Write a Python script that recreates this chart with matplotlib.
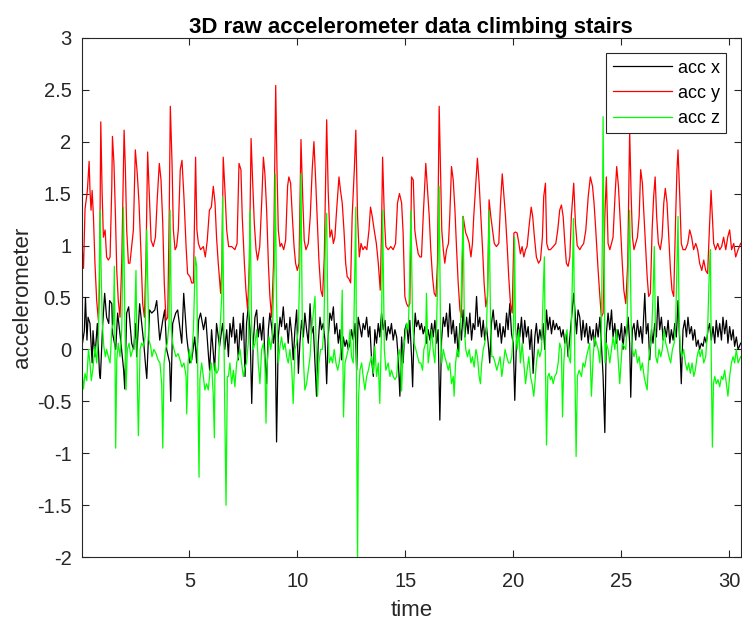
import matplotlib
matplotlib.use('Agg')
import matplotlib.pyplot as plt

# Raw accelerometer readings (g)
t_x = [
    0.03, 0.14, 0.19, 0.26, 0.31, 0.40, 0.50, 0.54, 0.63, 0.74,
    0.84, 0.88, 0.99, 1.08, 1.17, 1.27, 1.31, 1.41, 1.45, 1.59,
    1.68, 1.82, 1.96, 2.01, 2.10, 2.19, 2.33, 2.42, 2.52, 2.56,
    2.70, 2.89, 2.98, 3.03, 3.16, 3.26, 3.40, 3.49, 3.63, 3.77,
    3.86, 3.95, 4.09, 4.14, 4.23, 4.37, 4.46, 4.65, 4.74, 4.88,
    5.02, 5.11, 5.25, 5.34, 5.43, 5.52, 5.66, 5.76, 5.89, 5.94,
    6.03, 6.17, 6.26, 6.40, 6.54, 6.64, 6.73, 6.81, 6.88, 6.96,
    7.04, 7.11, 7.19, 7.27, 7.35, 7.42, 7.50, 7.58, 7.65, 7.73,
    7.81, 7.89, 7.96, 8.04, 8.12, 8.19, 8.27, 8.35, 8.43, 8.50,
    8.58, 8.66, 8.73, 8.81, 8.89, 8.97, 9.04, 9.12, 9.20, 9.27,
    9.35, 9.43, 9.51, 9.58, 9.66, 9.74, 9.81, 9.89, 9.97, 10.05,
    10.12, 10.20, 10.28, 10.35, 10.43, 10.51, 10.59, 10.66, 10.74, 10.82,
    10.89, 10.97, 11.05, 11.12, 11.20, 11.28, 11.36, 11.43, 11.51, 11.59,
    11.67, 11.74, 11.82, 11.90, 11.97, 12.05, 12.13, 12.21, 12.28, 12.36,
    12.44, 12.51, 12.59, 12.67, 12.75, 12.82, 12.90, 12.98, 13.05, 13.13,
    13.21, 13.29, 13.36, 13.44, 13.52, 13.59, 13.67, 13.75, 13.82, 13.90,
    13.98, 14.06, 14.13, 14.21, 14.29, 14.36, 14.44, 14.52, 14.60, 14.67,
    14.75, 14.83, 14.90, 14.98, 15.06, 15.14, 15.21, 15.29, 15.34, 15.40,
    15.46, 15.52, 15.60, 15.68, 15.75, 15.83, 15.91, 15.98, 16.06, 16.14,
    16.22, 16.29, 16.37, 16.45, 16.52, 16.60, 16.68, 16.76, 16.83, 16.91,
    16.99, 17.06, 17.14, 17.22, 17.30, 17.37, 17.45, 17.53, 17.60, 17.68,
    17.76, 17.84, 17.91, 17.99, 18.07, 18.14, 18.22, 18.30, 18.37, 18.45,
    18.53, 18.61, 18.68, 18.76, 18.84, 18.91, 18.99, 19.07, 19.15, 19.22,
    19.30, 19.38, 19.45, 19.53, 19.61, 19.69, 19.76, 19.84, 19.92, 20.00,
    20.07, 20.15, 20.23, 20.30, 20.38, 20.46, 20.53, 20.61, 20.69, 20.77,
    20.84, 20.92, 21.00, 21.07, 21.15, 21.23, 21.31, 21.38, 21.46, 21.54,
    21.61, 21.69, 21.77, 21.85, 21.92, 22.00, 22.08, 22.15, 22.23, 22.31,
    22.39, 22.46, 22.54, 22.62, 22.69, 22.80, 22.93, 23.00, 23.08, 23.16,
    23.23, 23.31, 23.39, 23.47, 23.54, 23.62, 23.70, 23.77, 23.85, 23.93,
    24.01, 24.08, 24.16, 24.24, 24.31, 24.39, 24.47, 24.55, 24.62, 24.70,
    24.78, 24.85, 24.93, 25.01, 25.08, 25.16, 25.24, 25.32, 25.39, 25.44,
    25.52, 25.59, 25.67, 25.75, 25.83, 25.90, 25.98, 26.09, 26.16, 26.24,
    26.32, 26.40, 26.47, 26.55, 26.63, 26.70, 26.78, 26.86, 26.94, 27.01,
    27.09, 27.17, 27.25, 27.32, 27.40, 27.48, 27.55, 27.63, 27.71, 27.78,
    27.86, 27.94, 28.02, 28.09, 28.17, 28.25, 28.32, 28.40, 28.48, 28.56,
    28.63, 28.71, 28.79, 28.86, 28.94, 29.02, 29.09, 29.17, 29.25, 29.33,
    29.40, 29.48, 29.56, 29.64, 29.71, 29.79, 29.87, 29.94, 30.02, 30.10,
    30.18, 30.25, 30.33, 30.41, 30.53,
]
acc_x = [
    0.03, 0.18, 0.50, 0.09, 0.31, 0.25, -0.13, 0.18, -0.07, 0.25,
    -0.23, -0.28, 0.25, 0.54, 0.31, 0.25, 0.47, 0.44, 0.15, 0.00,
    0.35, 0.09, -0.20, -0.38, 0.35, 0.41, 0.06, 0.00, 0.25, -0.07,
    0.44, 0.06, -0.17, -0.28, 0.38, 0.35, 0.38, 0.47, 0.09, 0.28,
    0.38, 0.00, -0.13, -0.50, 0.25, 0.35, 0.38, 0.06, 0.54, 0.12,
    -0.13, -0.10, 0.12, -0.13, 0.28, 0.35, 0.19, 0.31, -0.07, -0.20,
    0.19, -0.20, 0.25, 0.03, 0.25, 0.00, 0.19, -0.07, 0.25, 0.12,
    0.31, 0.06, 0.19, -0.10, 0.25, 0.09, 0.35, -0.26, 0.25, 0.41,
    0.19, -0.52, 0.06, 0.31, 0.38, 0.12, 0.25, 0.09, 0.31, -0.07,
    -0.33, 0.19, 0.35, 0.22, 0.06, 0.25, -0.89, 0.12, 0.31, 0.22,
    0.41, 0.19, 0.25, 0.06, 0.31, 0.15, -0.10, 0.19, 0.38, -0.23,
    0.06, 0.28, 0.12, 0.35, 0.19, 0.06, 0.44, 0.15, 0.22, -0.13,
    -0.45, 0.06, 0.31, 0.19, 0.25, 0.09, -0.33, 0.12, 0.35, 0.28,
    0.41, 0.15, 0.25, 0.06, 0.19, -0.10, 0.12, 0.03, 0.09, 0.00,
    0.06, 0.19, 0.09, 0.25, -0.20, 0.31, 0.22, 0.12, 0.25, 0.19,
    0.31, 0.12, 0.22, -0.10, -0.26, 0.19, 0.06, 0.25, 0.12, 0.35,
    0.19, 0.28, 0.09, 0.22, 0.15, 0.25, 0.09, 0.19, 0.12, -0.07,
    -0.45, 0.12, -0.13, 0.19, 0.25, 0.06, 0.28, -0.07, -0.36, 0.12,
    0.35, 0.22, 0.28, 0.19, 0.25, 0.15, 0.22, 0.06, 0.19, 0.09,
    0.25, 0.12, 0.28, 0.06, 0.19, -0.68, 0.09, 0.31, 0.22, 0.35,
    0.12, 0.44, 0.15, 0.28, 0.06, 0.22, -0.07, 0.25, 0.09, 0.38,
    0.12, 0.31, 0.15, 0.35, 0.09, 0.25, 0.19, 0.51, 0.22, 0.31,
    0.12, 0.28, 0.09, 0.22, 0.06, -0.13, 0.25, 0.38, 0.19, 0.28,
    0.12, 0.25, 0.06, 0.22, 0.12, 0.35, 0.19, 0.44, 0.15, 0.06,
    -0.49, 0.09, 0.25, 0.12, 0.31, 0.06, 0.28, 0.12, 0.22, 0.00,
    0.19, -0.23, 0.12, 0.25, 0.06, 0.19, 0.09, 0.25, 0.00, 0.38,
    0.19, 0.31, 0.15, 0.28, 0.19, 0.25, 0.19, 0.22, 0.12, 0.19,
    0.06, 0.15, -0.07, 0.12, 0.28, 0.54, 0.15, 0.38, 0.31, 0.09,
    0.28, 0.12, 0.25, 0.06, 0.22, 0.09, 0.19, 0.03, 0.25, 0.12,
    0.31, 0.06, -0.26, -0.80, 0.15, 0.35, 0.19, 0.38, 0.12, 0.25,
    0.06, 0.19, 0.09, 0.25, 0.00, 0.22, 0.12, 0.31, 0.06, -0.46,
    0.19, 0.25, 0.09, 0.28, 0.12, 0.22, 0.06, 0.54, 0.15, 0.25,
    -0.10, 0.19, 0.06, 0.25, 0.12, 0.51, 0.19, 0.31, 0.09, 0.22,
    0.12, 0.28, 0.06, 0.19, 0.09, 0.25, 0.12, 0.47, 0.06, -0.33,
    0.19, 0.28, 0.12, 0.31, 0.15, 0.22, 0.09, 0.19, 0.03, 0.09,
    0.00, 0.06, 0.03, 0.12, 0.06, 0.19, 0.25, 0.09, 0.22, 0.06,
    0.28, 0.12, 0.25, 0.09, 0.31, 0.15, 0.28, 0.06, 0.22, 0.09,
    0.19, 0.03, 0.12, 0.00, 0.06,
]

t_y = [
    0.03, 0.10, 0.17, 0.28, 0.36, 0.40, 0.45, 0.50, 0.56, 0.63,
    0.71, 0.79, 0.84, 0.90, 0.96, 1.02, 1.10, 1.17, 1.25, 1.33,
    1.41, 1.44, 1.51, 1.58, 1.64, 1.71, 1.79, 1.87, 1.98, 2.04,
    2.10, 2.18, 2.25, 2.33, 2.41, 2.50, 2.59, 2.67, 2.75, 2.84,
    2.92, 2.99, 3.07, 3.15, 3.23, 3.33, 3.43, 3.52, 3.61, 3.69,
    3.77, 3.84, 3.92, 4.00, 4.07, 4.12, 4.20, 4.26, 4.34, 4.41,
    4.49, 4.58, 4.66, 4.75, 4.85, 4.92, 5.03, 5.11, 5.19, 5.29,
    5.35, 5.42, 5.52, 5.65, 5.74, 5.83, 5.93, 6.02, 6.11, 6.19,
    6.26, 6.34, 6.45, 6.51, 6.57, 6.65, 6.73, 6.82, 6.96, 7.11,
    7.21, 7.30, 7.39, 7.45, 7.55, 7.62, 7.70, 7.78, 7.86, 7.93,
    8.01, 8.09, 8.16, 8.26, 8.35, 8.43, 8.50, 8.58, 8.66, 8.73,
    8.81, 8.90, 9.00, 9.06, 9.12, 9.20, 9.27, 9.37, 9.46, 9.55,
    9.61, 9.69, 9.77, 9.85, 9.92, 10.00, 10.08, 10.17, 10.25, 10.32,
    10.40, 10.51, 10.60, 10.69, 10.77, 10.85, 10.92, 11.00, 11.09, 11.17,
    11.25, 11.36, 11.43, 11.51, 11.59, 11.67, 11.74, 11.82, 11.93, 12.00,
    12.08, 12.16, 12.24, 12.31, 12.39, 12.47, 12.54, 12.64, 12.71, 12.79,
    12.87, 12.95, 13.04, 13.13, 13.22, 13.32, 13.39, 13.47, 13.56, 13.66,
    13.75, 13.84, 13.90, 13.95, 14.03, 14.10, 14.21, 14.33, 14.44, 14.55,
    14.64, 14.73, 14.83, 14.90, 14.98, 15.06, 15.14, 15.21, 15.29, 15.37,
    15.44, 15.52, 15.60, 15.68, 15.75, 15.83, 15.95, 16.03, 16.11, 16.18,
    16.26, 16.34, 16.42, 16.49, 16.57, 16.63, 16.69, 16.76, 16.83, 16.91,
    17.00, 17.06, 17.14, 17.22, 17.30, 17.37, 17.45, 17.53, 17.60, 17.68,
    17.73, 17.80, 17.88, 17.96, 18.04, 18.11, 18.17, 18.27, 18.34, 18.42,
    18.50, 18.58, 18.65, 18.73, 18.81, 18.88, 18.96, 19.04, 19.12, 19.22,
    19.33, 19.41, 19.49, 19.56, 19.64, 19.72, 19.79, 19.87, 19.95, 20.03,
    20.10, 20.18, 20.26, 20.33, 20.41, 20.49, 20.57, 20.64, 20.73, 20.83,
    20.90, 20.98, 21.07, 21.17, 21.26, 21.35, 21.41, 21.49, 21.55, 21.63,
    21.72, 21.85, 21.97, 22.06, 22.15, 22.23, 22.31, 22.39, 22.46, 22.54,
    22.62, 22.69, 22.80, 22.88, 22.96, 23.08, 23.16, 23.26, 23.36, 23.47,
    23.57, 23.67, 23.74, 23.82, 23.93, 24.01, 24.08, 24.16, 24.24, 24.31,
    24.39, 24.47, 24.55, 24.62, 24.71, 24.79, 24.87, 24.96, 25.04, 25.12,
    25.21, 25.30, 25.39, 25.46, 25.52, 25.59, 25.67, 25.75, 25.83, 25.90,
    25.98, 26.04, 26.12, 26.20, 26.27, 26.35, 26.43, 26.50, 26.57, 26.64,
    26.72, 26.81, 26.89, 26.97, 27.04, 27.12, 27.20, 27.28, 27.35, 27.43,
    27.52, 27.58, 27.63, 27.71, 27.78, 27.86, 27.97, 28.08, 28.17, 28.26,
    28.35, 28.45, 28.54, 28.63, 28.73, 28.82, 28.91, 29.00, 29.08, 29.16,
    29.22, 29.28, 29.37, 29.47, 29.56, 29.65, 29.74, 29.84, 29.93, 30.02,
    30.11, 30.21, 30.30, 30.41, 30.53,
]
acc_y = [
    1.00, 0.78, 1.35, 1.53, 1.81, 1.53, 1.34, 1.53, 1.28, 0.83,
    0.47, 0.28, 0.60, 2.19, 1.53, 1.08, 1.15, 0.89, 0.86, 0.89,
    1.57, 2.05, 1.79, 1.28, 0.76, 0.47, 0.31, 0.83, 2.11, 1.73,
    1.15, 0.83, 0.83, 0.99, 1.15, 1.92, 1.69, 1.41, 0.99, 0.44,
    0.31, 0.83, 1.90, 1.47, 1.05, 0.99, 1.08, 1.47, 1.79, 1.63,
    1.21, 0.64, 0.28, 0.31, 1.31, 2.34, 1.79, 1.15, 0.96, 0.99,
    1.15, 1.73, 1.82, 1.47, 0.99, 0.73, 0.70, 0.64, 0.64, 1.85,
    1.15, 1.02, 0.96, 0.99, 0.89, 1.05, 1.34, 1.37, 1.57, 1.41,
    1.08, 0.83, 0.54, 0.83, 1.85, 1.53, 1.15, 0.99, 0.99, 0.96,
    1.02, 1.79, 1.73, 1.28, 0.83, 0.57, 0.38, 0.83, 2.03, 1.63,
    1.21, 0.96, 0.86, 0.99, 1.41, 1.85, 1.69, 1.34, 0.83, 0.51,
    0.31, 0.83, 2.54, 1.73, 1.15, 0.99, 1.02, 0.96, 1.05, 1.57,
    1.66, 1.60, 1.28, 0.99, 0.83, 0.76, 0.83, 2.02, 1.47, 1.05,
    0.96, 1.02, 1.28, 1.73, 2.00, 1.63, 1.28, 0.86, 0.57, 0.51,
    0.89, 2.21, 1.53, 1.08, 1.15, 1.02, 1.08, 1.34, 1.66, 1.53,
    1.41, 1.15, 0.83, 0.70, 0.68, 0.64, 1.28, 1.73, 2.11, 1.28,
    0.89, 1.02, 0.96, 0.99, 0.96, 1.15, 1.37, 1.28, 1.15, 1.02,
    0.83, 0.57, 1.15, 1.85, 1.28, 0.99, 0.96, 0.99, 0.96, 1.02,
    1.41, 1.50, 1.41, 1.12, 0.51, 0.44, 0.41, 0.44, 1.66, 1.63,
    1.15, 1.02, 0.92, 0.89, 0.89, 1.28, 1.79, 1.53, 1.28, 0.96,
    0.70, 0.54, 0.51, 0.83, 2.34, 1.73, 1.15, 0.96, 0.83, 0.96,
    1.02, 1.28, 1.76, 1.63, 1.34, 0.99, 0.64, 0.38, 0.31, 1.28,
    1.21, 1.12, 1.08, 1.02, 0.89, 1.02, 1.28, 1.60, 1.84, 1.60,
    1.28, 0.96, 0.64, 0.41, 0.51, 1.44, 1.28, 1.15, 1.02, 0.99,
    1.02, 1.41, 1.69, 1.50, 1.28, 0.99, 0.70, 0.44, 0.35, 1.12,
    1.13, 1.12, 1.02, 0.92, 0.99, 0.89, 0.96, 0.99, 1.18, 1.37,
    1.28, 1.08, 0.89, 0.83, 0.86, 1.08, 1.47, 1.60, 1.02, 0.96,
    0.96, 0.99, 1.02, 1.15, 1.34, 1.39, 1.28, 1.02, 0.83, 0.80,
    0.89, 1.28, 1.60, 1.21, 1.00, 0.96, 0.99, 1.02, 1.15, 1.47,
    1.66, 1.57, 1.41, 1.15, 0.76, 0.51, 0.31, 0.35, 1.28, 1.66,
    1.02, 0.96, 1.02, 1.08, 1.47, 1.76, 1.57, 1.21, 0.86, 0.57,
    0.44, 0.83, 2.10, 1.47, 1.08, 0.96, 1.02, 1.08, 1.28, 1.73,
    1.60, 1.34, 1.02, 0.70, 0.51, 0.54, 1.15, 1.47, 1.66, 1.28,
    1.02, 0.96, 1.08, 1.41, 1.55, 1.41, 1.08, 0.76, 0.57, 0.51,
    1.28, 1.73, 1.92, 1.47, 1.02, 0.96, 0.96, 1.02, 1.15, 1.08,
    0.96, 1.02, 0.96, 0.83, 0.76, 0.86, 0.76, 0.73, 1.15, 1.53,
    1.28, 1.02, 0.96, 1.02, 0.96, 0.99, 1.08, 0.96, 1.08, 1.15,
    0.96, 1.02, 0.89, 0.96, 1.02,
]

t_z = [
    0.03, 0.10, 0.17, 0.25, 0.33, 0.40, 0.46, 0.53, 0.63, 0.71,
    0.79, 0.87, 0.91, 0.97, 1.04, 1.11, 1.17, 1.25, 1.33, 1.41,
    1.48, 1.53, 1.59, 1.64, 1.71, 1.79, 1.87, 1.95, 2.02, 2.07,
    2.13, 2.21, 2.29, 2.38, 2.44, 2.53, 2.59, 2.64, 2.72, 2.79,
    2.87, 2.95, 3.03, 3.07, 3.13, 3.21, 3.27, 3.36, 3.46, 3.55,
    3.64, 3.72, 3.77, 3.83, 3.90, 3.98, 4.06, 4.11, 4.17, 4.23,
    4.29, 4.38, 4.48, 4.57, 4.66, 4.75, 4.85, 4.88, 4.94, 5.00,
    5.09, 5.19, 5.28, 5.34, 5.40, 5.45, 5.49, 5.57, 5.65, 5.72,
    5.80, 5.88, 5.96, 6.03, 6.11, 6.16, 6.19, 6.26, 6.34, 6.42,
    6.50, 6.54, 6.60, 6.65, 6.70, 6.76, 6.81, 6.88, 6.96, 7.04,
    7.11, 7.19, 7.27, 7.35, 7.42, 7.50, 7.58, 7.65, 7.73, 7.81,
    7.89, 7.96, 8.04, 8.12, 8.19, 8.27, 8.35, 8.43, 8.50, 8.55,
    8.61, 8.69, 8.77, 8.84, 8.94, 8.98, 9.04, 9.12, 9.20, 9.27,
    9.35, 9.43, 9.51, 9.58, 9.66, 9.74, 9.81, 9.89, 9.97, 10.05,
    10.12, 10.17, 10.23, 10.29, 10.35, 10.43, 10.51, 10.59, 10.66, 10.74,
    10.82, 10.89, 10.94, 11.00, 11.08, 11.16, 11.23, 11.31, 11.36, 11.42,
    11.48, 11.56, 11.63, 11.71, 11.79, 11.87, 11.94, 12.02, 12.08, 12.14,
    12.21, 12.28, 12.36, 12.44, 12.51, 12.59, 12.67, 12.71, 12.75, 12.79,
    12.84, 12.90, 12.98, 13.05, 13.13, 13.21, 13.29, 13.36, 13.44, 13.52,
    13.59, 13.67, 13.75, 13.82, 13.90, 13.95, 14.03, 14.10, 14.21, 14.29,
    14.36, 14.44, 14.52, 14.60, 14.67, 14.75, 14.83, 14.90, 14.98, 15.06,
    15.14, 15.20, 15.26, 15.34, 15.41, 15.49, 15.57, 15.64, 15.72, 15.80,
    15.86, 15.94, 15.98, 16.06, 16.14, 16.22, 16.29, 16.37, 16.45, 16.52,
    16.57, 16.63, 16.69, 16.76, 16.83, 16.91, 16.99, 17.06, 17.14, 17.22,
    17.26, 17.33, 17.40, 17.48, 17.56, 17.62, 17.68, 17.74, 17.80, 17.88,
    17.96, 18.04, 18.11, 18.19, 18.27, 18.34, 18.42, 18.48, 18.54, 18.61,
    18.68, 18.76, 18.84, 18.88, 18.95, 19.01, 19.08, 19.16, 19.24, 19.32,
    19.39, 19.47, 19.55, 19.62, 19.70, 19.78, 19.86, 19.93, 20.01, 20.06,
    20.10, 20.18, 20.26, 20.33, 20.41, 20.49, 20.57, 20.64, 20.72, 20.80,
    20.87, 20.95, 21.00, 21.07, 21.15, 21.23, 21.31, 21.38, 21.44, 21.49,
    21.54, 21.60, 21.66, 21.72, 21.78, 21.85, 21.92, 22.00, 22.08, 22.15,
    22.23, 22.28, 22.34, 22.42, 22.49, 22.57, 22.65, 22.72, 22.79, 22.85,
    22.91, 22.97, 23.05, 23.16, 23.23, 23.31, 23.39, 23.47, 23.54, 23.62,
    23.70, 23.77, 23.85, 23.93, 24.01, 24.08, 24.13, 24.16, 24.21, 24.25,
    24.31, 24.39, 24.47, 24.55, 24.62, 24.70, 24.78, 24.85, 24.93, 24.99,
    25.05, 25.13, 25.21, 25.27, 25.33, 25.39, 25.46, 25.52, 25.59, 25.67,
    25.75, 25.83, 25.90, 25.98, 26.06, 26.13, 26.20, 26.26, 26.32, 26.40,
    26.47, 26.53, 26.60, 26.67, 26.75, 26.83, 26.90, 26.98, 27.06, 27.14,
    27.21, 27.29, 27.37, 27.45, 27.52, 27.58, 27.63, 27.68, 27.74, 27.82,
    27.89, 27.97, 28.05, 28.12, 28.20, 28.28, 28.36, 28.43, 28.51, 28.59,
    28.66, 28.74, 28.82, 28.91, 29.00, 29.08, 29.13, 29.17, 29.22, 29.27,
    29.33, 29.40, 29.48, 29.56, 29.64, 29.71, 29.79, 29.87, 29.94, 30.02,
    30.10, 30.18, 30.25, 30.33, 30.41, 30.53,
]
acc_z = [
    -0.20, -0.38, -0.23, -0.30, 0.00, -0.13, -0.30, -0.20, 0.03, -0.13,
    0.12, 1.34, 0.83, 0.25, 0.03, -0.07, 0.00, -0.07, -0.13, 0.19,
    0.25, 0.80, -0.95, -0.10, 0.06, -0.07, 0.19, 1.37, 0.19, -0.39,
    0.00, 0.06, -0.07, 0.00, 0.00, 0.76, -0.26, -0.83, 0.00, 0.06,
    0.03, 0.12, 1.15, 0.70, 0.09, 0.03, -0.07, 0.00, -0.04, -0.10,
    -0.13, -0.33, -0.95, -0.13, 0.00, 0.06, 0.25, 1.34, 0.19, 0.06,
    0.00, -0.07, -0.04, -0.10, -0.17, -0.13, -0.26, -0.62, -0.13, 0.00,
    -0.13, 0.19, 0.89, 0.80, -0.42, -1.23, -0.29, -0.13, -0.26, -0.39,
    -0.33, -0.39, -0.20, -0.13, -0.45, -0.85, -0.13, -0.23, -0.20, 0.19,
    0.51, 1.47, 0.19, -0.71, -1.50, -0.26, -0.26, -0.13, -0.33, -0.20,
    -0.36, -0.13, -0.07, 0.00, -0.13, -0.26, -0.17, -0.13, 0.06, 1.34,
    0.19, 0.00, 0.06, 0.19, -0.13, -0.33, 0.00, 0.06, -0.13, -0.71,
    -0.13, 0.12, 0.00, 0.12, 0.83, 1.69, 0.44, -0.13, 0.03, 0.12,
    0.00, 0.06, -0.07, -0.13, 0.00, -0.17, -0.52, 0.00, 0.06, 0.19,
    0.83, 1.69, 0.25, -0.13, -0.39, -0.33, -0.20, -0.07, 0.19, 0.35,
    0.51, -0.13, -0.45, -0.13, 0.00, 0.00, 0.19, 1.15, 1.31, 0.19,
    -0.13, -0.07, -0.13, 0.00, -0.13, -0.20, -0.13, 0.00, 0.57, -0.65,
    -0.13, -0.07, 0.00, 0.19, -0.07, -0.13, 0.83, 1.37, -0.78, -2.05,
    -0.45, -0.20, -0.13, -0.26, -0.39, -0.26, -0.20, -0.13, -0.07, -0.23,
    0.03, -0.26, -0.13, -0.52, 0.19, 1.34, 0.00, -0.20, -0.13, -0.26,
    -0.20, -0.26, -0.29, -0.26, -0.07, 0.00, -0.40, 0.00, 0.09, 0.25,
    0.19, 0.64, 1.34, 0.25, 0.06, 0.00, -0.07, -0.13, -0.13, -0.20,
    0.00, 0.06, 0.54, -0.13, 0.00, 0.19, 0.00, -0.13, 0.25, 0.83,
    1.57, 0.19, -0.13, 0.00, -0.07, -0.13, -0.20, -0.13, -0.33, -0.26,
    -0.45, -0.13, 0.00, -0.07, 0.25, 0.83, 1.28, 0.19, 0.00, -0.07,
    0.00, -0.13, -0.07, -0.17, 0.00, -0.07, -0.26, -0.33, -0.13, 0.00,
    0.06, 0.19, 0.83, 1.34, 0.25, -0.07, -0.07, -0.13, -0.20, -0.13,
    -0.07, -0.26, -0.13, 0.00, -0.07, -0.13, -0.13, -0.07, 0.19, 1.08,
    0.22, 0.00, 0.19, -0.13, 0.06, -0.13, -0.33, -0.20, -0.07, -0.26,
    -0.33, -0.45, -0.33, -0.13, 0.00, -0.07, 0.00, 0.51, 0.89, -0.13,
    -0.92, -0.26, -0.23, -0.29, -0.26, -0.33, -0.26, -0.23, -0.13, 0.06,
    0.00, -0.65, -0.13, 0.12, 0.19, -0.07, -0.13, 0.51, 1.26, -0.13,
    -1.03, -0.26, -0.20, -0.26, -0.13, -0.17, -0.07, 0.00, 0.06, -0.45,
    -0.07, 0.12, 0.06, 0.00, -0.13, 0.19, 1.15, 2.24, 0.83, -0.13,
    0.06, 0.00, -0.13, 0.00, 0.12, 0.00, 0.19, -0.07, -0.33, -0.13,
    0.06, 0.03, 0.00, 0.25, 0.83, 1.34, 0.25, 0.00, -0.07, 0.00,
    -0.13, -0.07, -0.20, -0.13, -0.26, -0.33, -0.39, -0.13, 0.00, 0.12,
    0.51, 0.99, -0.07, -0.13, 0.00, -0.07, 0.00, 0.19, 0.06, 0.00,
    -0.07, -0.13, 0.00, 0.06, 0.25, 0.83, 1.28, 0.25, 0.00, -0.07,
    0.00, -0.13, -0.20, -0.13, -0.23, -0.13, -0.26, -0.20, -0.07, 0.00,
    -0.07, 0.00, -0.13, -0.07, 0.19, 0.76, 0.96, -0.13, -0.94, -0.33,
    -0.26, -0.33, -0.29, -0.36, -0.26, -0.29, -0.20, -0.33, -0.45, -0.26,
    -0.13, -0.07, -0.13, 0.00, -0.13, -0.07,
]

series_labels = ['acc x', 'acc y', 'acc z']
x_ticks = [5, 10, 15, 20, 25, 30]
y_ticks = [-2, -1.5, -1, -0.5, 0, 0.5, 1, 1.5, 2, 2.5, 3]


def plot_stairs():
    plt.rcParams['font.family'] = ['Liberation Sans', 'DejaVu Sans']
    axis_grey = '#262626'

    fig = plt.figure(figsize=(7.42, 6.23), dpi=100)
    ax = fig.add_axes([0.1105, 0.1055, 0.8877, 0.8340])

    ax.plot(t_x, acc_x, color='black', linewidth=0.9, label=series_labels[0])
    ax.plot(t_y, acc_y, color=(1, 0, 0), linewidth=0.9, label=series_labels[1])
    ax.plot(t_z, acc_z, color=(0, 1, 0), linewidth=0.9, label=series_labels[2])

    ax.set_xlim(0.03, 30.53)
    ax.set_ylim(-2, 3)
    ax.set_xticks(x_ticks)
    ax.set_yticks(y_ticks)
    ax.set_xticklabels([str(v) for v in x_ticks])
    ax.set_yticklabels([f'{v:g}' for v in y_ticks])

    ax.tick_params(direction='in', length=5, width=0.8, top=True, right=True,
                   labelsize=14.5, colors=axis_grey)
    ax.tick_params(axis='x', pad=10.5)
    ax.tick_params(axis='y', pad=7.5)
    for side in ax.spines.values():
        side.set_color(axis_grey)
        side.set_linewidth(0.8)

    ax.set_title('3D raw accelerometer data climbing stairs',
                 fontsize=16, fontweight='bold', pad=3.5)
    ax.set_xlabel('time', fontsize=16, color=axis_grey, labelpad=6.5)
    ax.set_ylabel('accelerometer', fontsize=16, color=axis_grey, labelpad=3)

    leg = ax.legend(loc='upper right', bbox_to_anchor=(0.9777, 0.970),
                    borderaxespad=0, fontsize=13, handlelength=3.3,
                    handletextpad=0.3, labelspacing=0.45, borderpad=0.35,
                    fancybox=False, framealpha=1, edgecolor=axis_grey)
    leg.get_frame().set_linewidth(0.8)

    fig.savefig('out.png', dpi=100)


if __name__ == "__main__":
    plot_stairs()
